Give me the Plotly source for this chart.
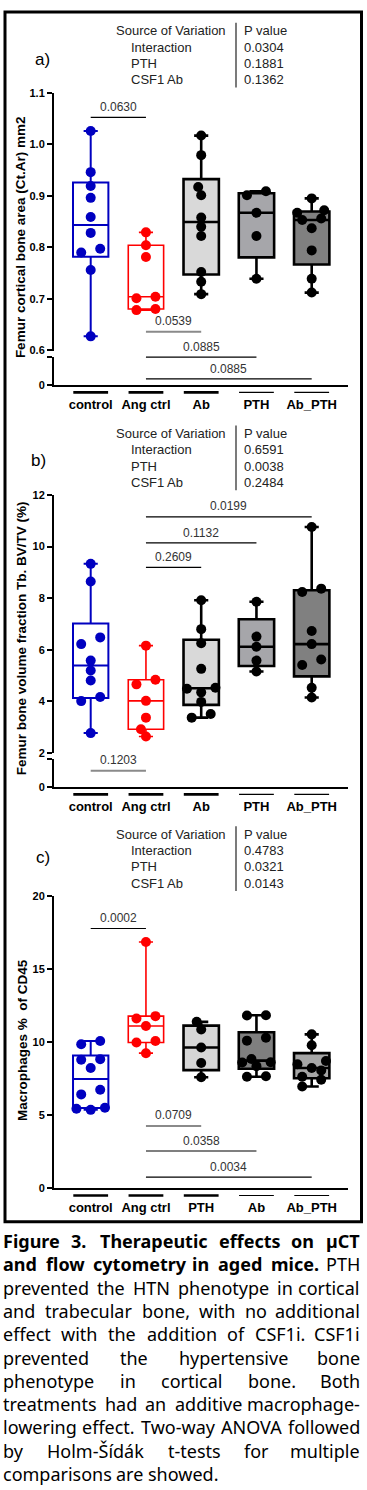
import numpy as np
import plotly.graph_objects as go

W, H = 367, 1490

# ---------------- data ----------------
a_categories = ["control", "Ang ctrl", "Ab", "PTH", "Ab_PTH"]
a_control = [1.026, 0.946, 0.919, 0.896, 0.859, 0.828, 0.797, 0.790, 0.756, 0.627]
a_ang_ctrl = [0.829, 0.804, 0.781, 0.704, 0.701, 0.680, 0.678]
a_ab = [1.017, 0.979, 0.917, 0.901, 0.858, 0.840, 0.822, 0.752, 0.733, 0.709]
a_pth = [0.909, 0.901, 0.867, 0.822, 0.739]
a_ab_pth = [0.895, 0.872, 0.867, 0.856, 0.853, 0.837, 0.794, 0.739, 0.712]
a_anova_source = ["Interaction", "PTH", "CSF1 Ab"]
a_anova_p = ["0.0304", "0.1881", "0.1362"]
a_comparisons = [("control", "Ang ctrl", "0.0630"), ("Ang ctrl", "Ab", "0.0539"),
                 ("Ang ctrl", "PTH", "0.0885"), ("Ang ctrl", "Ab_PTH", "0.0885")]
a_ytitle = "Femur cortical bone area (Ct.Ar) mm2"

b_categories = ["control", "Ang ctrl", "Ab", "PTH", "Ab_PTH"]
b_control = [9.33, 8.65, 6.48, 6.22, 5.58, 5.20, 4.81, 4.17, 4.01, 2.77]
b_ang_ctrl = [6.16, 4.84, 4.66, 4.02, 3.37, 2.92, 2.64]
b_ab = [7.92, 6.80, 6.25, 5.26, 4.53, 4.49, 4.35, 3.98, 3.51, 3.37]
b_pth = [7.86, 6.51, 6.12, 5.58, 5.16]
b_ab_pth = [10.76, 8.37, 8.24, 6.73, 6.22, 5.62, 5.41, 4.53, 4.15]
b_anova_source = ["Interaction", "PTH", "CSF1 Ab"]
b_anova_p = ["0.6591", "0.0038", "0.2484"]
b_comparisons = [("Ang ctrl", "Ab_PTH", "0.0199"), ("Ang ctrl", "PTH", "0.1132"),
                 ("Ang ctrl", "Ab", "0.2609"), ("control", "Ang ctrl", "0.1203")]
b_ytitle = "Femur bone volume fraction Tb. BV/TV (%)"

c_categories = ["control", "Ang ctrl", "PTH", "Ab", "Ab_PTH"]
c_control = [10.08, 9.85, 8.83, 8.79, 8.22, 6.73, 6.41, 5.50, 5.43, 5.35]
c_ang_ctrl = [16.87, 11.78, 11.62, 11.10, 10.08, 9.97, 9.24]
c_pth = [11.39, 10.87, 9.63, 8.56, 7.59]
c_ab = [11.84, 11.82, 10.30, 10.10, 8.84, 8.62, 8.60, 8.35, 7.65, 7.62]
c_ab_pth = [10.53, 9.78, 8.70, 8.48, 8.22, 8.05, 7.62, 7.42, 6.95]
c_anova_source = ["Interaction", "PTH", "CSF1 Ab"]
c_anova_p = ["0.4783", "0.0321", "0.0143"]
c_comparisons = [("control", "Ang ctrl", "0.0002"), ("Ang ctrl", "PTH", "0.0709"),
                 ("Ang ctrl", "Ab", "0.0358"), ("Ang ctrl", "Ab_PTH", "0.0034")]
c_ytitle = "Macrophages %\u00a0 of CD45"

caption_lines = [
    ("Figure 3. Therapeutic effects on µCT", 6),
    ("and flow cytometry in aged mice. PTH", 6),
    ("prevented the HTN phenotype in cortical", 0),
    ("and trabecular bone, with no additional", 0),
    ("effect with the addition of CSF1i. CSF1i", 0),
    ("prevented the hypertensive bone", 0),
    ("phenotype in cortical bone. Both", 0),
    ("treatments had an additive macrophage-", 0),
    ("lowering effect. Two-way ANOVA followed", 0),
    ("by Holm-Šídák t-tests for multiple", 0),
    ("comparisons are showed.", 0),
]

# ---------------- styling / layout ----------------
AXF = "Liberation Sans, Arial, sans-serif"
CAPF = "Noto Sans, Open Sans, sans-serif"
BLUE, RED = "#0000C0", "#FF0000"
X_LEFT, X_RIGHT = 54, 348
CAT0_PX, CAT_STEP = 90.7, 55.25
x_range = [(X_LEFT - CAT0_PX) / CAT_STEP, (X_RIGHT - CAT0_PX) / CAT_STEP]


def pyf(y):
    return 1 - y / H


def pxf(x):
    return x / W


panels = [
    dict(cats=a_categories, groups=[a_control, a_ang_ctrl, a_ab, a_pth, a_ab_pth],
         fills=["white", "white", "#D9D9D9", "#A6A6AA", "#808080"],
         upper=(87.3, 347.3), yr=(0.6, 1.1), ytv=[0.6, 0.7, 0.8, 0.9, 1.0, 1.1], yfmt="{:.1f}",
         lower=(354.0, 382.0), src=a_anova_source, pv=a_anova_p, table_y=25.0, label="a)", label_xy=(42.5, 54),
         comps=a_comparisons, comp_y=[112.3, 328.3, 354.0, 376.0], comp_grey=[False, True, False, False],
         ytitle=a_ytitle, ytitle_xy=(20, 233)),
    dict(cats=b_categories, groups=[b_control, b_ang_ctrl, b_ab, b_pth, b_ab_pth],
         fills=["white", "white", "#D9D9D9", "#A6A6AA", "#808080"],
         upper=(492.7, 753.3), yr=(2, 12), ytv=[2, 4, 6, 8, 10, 12], yfmt="{:.0f}",
         lower=(759.0, 787.3), src=b_anova_source, pv=b_anova_p, table_y=431.0, label="b)", label_xy=(38.5, 458),
         comps=b_comparisons, comp_y=[515.0, 541.3, 566.0, 771.0], comp_grey=[False, False, False, True],
         ytitle=b_ytitle, ytitle_xy=(21.5, 638)),
    dict(cats=c_categories, groups=[c_control, c_ang_ctrl, c_pth, c_ab, c_ab_pth],
         fills=["white", "white", "#D6D6D6", "#7F7F7F", "#A6A6A6"],
         upper=(897.3, 1191.7), yr=(0, 20), ytv=[0, 5, 10, 15, 20], yfmt="{:.0f}",
         lower=None, src=c_anova_source, pv=c_anova_p, table_y=835.0, label="c)", label_xy=(42.5, 858),
         comps=c_comparisons, comp_y=[930.0, 1129.0, 1154.3, 1180.7], comp_grey=[False, True, False, False],
         ytitle=c_ytitle, ytitle_xy=(22.5, 1043)),
]
line_colors = [BLUE, RED, "black", "black", "black"]
line_widths = [2.0, 1.6, 2.6, 2.6, 2.6]
DOT = 10


def swarm_offsets(vals, ppu_y, ppu_x, d=9.5):
    n = len(vals)
    order = sorted(range(n), key=lambda i: vals[i])
    rows = []
    for i in order:
        if rows and (vals[i] - vals[rows[-1][0]]) * ppu_y < 0.75 * d:
            rows[-1].append(i)
        else:
            rows.append([i])
    off = [0.0] * n
    placed = []
    for row in rows:
        m = len(row)
        if m == 1:
            slots = [0.0]
        elif m == 2:
            slots = [-1.0, 1.0]
        elif m % 2 == 1:
            slots, k = [0.0], 1
            while len(slots) < m:
                slots += [-1.5 * k, 1.5 * k]
                k += 1
        else:
            slots, k = [], 0
            while len(slots) < m:
                slots += [-(0.75 + 1.5 * k), 0.75 + 1.5 * k]
                k += 1
        for i, s in zip(row, slots[:m]):
            dx = s * d
            yp = vals[i] * ppu_y

            def free(x):
                return all((x - a) ** 2 + (yp - b) ** 2 >= (0.92 * d) ** 2 for a, b in placed)
            if not free(dx):
                for step in range(1, 80):
                    sgn = -1 if dx <= 0 else 1
                    cands = [dx + sgn * step * 0.5, dx - sgn * step * 0.5]
                    ok = [c for c in cands if free(c)]
                    if ok:
                        dx = ok[0]
                        break
            placed.append((dx, yp))
            off[i] = dx / ppu_x
    return off


fig = go.Figure()
layout = dict(width=W, height=H, margin=dict(l=0, r=0, t=0, b=0), autosize=False,
              paper_bgcolor="white", plot_bgcolor="rgba(0,0,0,0)", showlegend=False)
shapes, annotations = [], []

yidx = 1
for pi, P in enumerate(panels):
    xname = "x" if pi == 0 else f"x{pi + 1}"
    xkey = "xaxis" if pi == 0 else f"xaxis{pi + 1}"
    yu = "y" if yidx == 1 else f"y{yidx}"
    yukey = "yaxis" if yidx == 1 else f"yaxis{yidx}"
    top, bot = P["upper"]
    y0, y1 = P["yr"]
    span = y1 - y0
    pad = span * 0.001
    layout[yukey] = dict(domain=[pyf(bot), pyf(top)], range=[y0 - pad, y1 + pad], anchor=xname,
                         tickvals=P["ytv"], ticktext=[P["yfmt"].format(v) for v in P["ytv"]],
                         ticks="outside", ticklen=5, tickwidth=2, tickcolor="black",
                         showline=True, linewidth=2, linecolor="black", showgrid=False, zeroline=False,
                         tickfont=dict(family=AXF, size=11, color="black", weight="bold"))
    axis_bottom_px = bot
    x_anchor = yu
    if P["lower"] is not None:
        yidx += 1
        yl = f"y{yidx}"
        ylkey = f"yaxis{yidx}"
        ltop, lbot = P["lower"]
        layout[ylkey] = dict(domain=[pyf(lbot), pyf(ltop)], range=[-0.001, 1.001], anchor=xname,
                             tickvals=[0, 1], ticktext=["0", ""],
                             ticks="outside", ticklen=5, tickwidth=2, tickcolor="black",
                             showline=True, linewidth=2, linecolor="black", showgrid=False, zeroline=False,
                             tickfont=dict(family=AXF, size=11, color="black", weight="bold"))
        fig.add_trace(go.Scatter(x=[0], y=[-5], xaxis=xname, yaxis=yl, mode="markers",
                                 marker=dict(opacity=0), hoverinfo="skip", showlegend=False))
        axis_bottom_px = lbot
        x_anchor = yl
    yidx += 1
    layout[xkey] = dict(domain=[pxf(X_LEFT), pxf(X_RIGHT)], range=x_range, anchor=x_anchor,
                        tickvals=list(range(len(P["cats"]))), ticktext=P["cats"],
                        ticks="", ticklabelstandoff=6,
                        showline=True, linewidth=2, linecolor="black", showgrid=False, zeroline=False,
                        tickfont=dict(family=AXF, size=13, color="black", weight="bold"))

    ppu_y = (bot - top) / span
    for gi, vals in enumerate(P["groups"]):
        arr = np.array(vals, dtype=float)
        q1, med, q3 = np.percentile(arr, [25, 50, 75], method="weibull")
        fig.add_trace(go.Box(x=[gi], q1=[q1], median=[med], q3=[q3],
                             lowerfence=[arr.min()], upperfence=[arr.max()],
                             width=0.64, whiskerwidth=0.4, boxpoints=False,
                             fillcolor=P["fills"][gi],
                             line=dict(color=line_colors[gi], width=line_widths[gi]),
                             xaxis=xname, yaxis=yu, hoverinfo="skip", showlegend=False))
        offs = swarm_offsets(vals, ppu_y, CAT_STEP)
        fig.add_trace(go.Scatter(x=[gi + o for o in offs], y=vals, mode="markers",
                                 marker=dict(size=DOT, color=line_colors[gi], line=dict(width=0)),
                                 xaxis=xname, yaxis=yu, hoverinfo="skip", showlegend=False,
                                 cliponaxis=False))

    # category over-lines
    for gi in range(len(P["cats"])):
        shapes.append(dict(type="line", xref=xname, yref="paper", x0=gi - 0.315, x1=gi + 0.315,
                           y0=pyf(axis_bottom_px + 7.5), y1=pyf(axis_bottom_px + 7.5),
                           line=dict(color="black", width=2.6 if gi < 3 else 1.1)))

    # comparison bars
    cat_index = {c: i for i, c in enumerate(P["cats"])}
    for (ca, cb, lab), yb, grey in zip(P["comps"], P["comp_y"], P["comp_grey"]):
        ia, ib = cat_index[ca], cat_index[cb]
        shapes.append(dict(type="line", xref=xname, yref="paper", x0=ia, x1=ib,
                           y0=pyf(yb), y1=pyf(yb),
                           line=dict(color="#8A8A8A" if grey else "black", width=2 if grey else 1.2)))
        annotations.append(dict(xref=xname, yref="paper", x=(ia + ib) / 2, y=pyf(yb - 10.5),
                                text=lab, showarrow=False, xanchor="center", yanchor="middle",
                                font=dict(family=AXF, size=12, color="#333333")))

    # ANOVA table
    ty = P["table_y"]
    step = 16.4
    annotations.append(dict(xref="paper", yref="paper", x=pxf(114), y=pyf(ty), text="Source of Variation",
                            showarrow=False, xanchor="left", yanchor="middle",
                            font=dict(family=AXF, size=13, color="#222222")))
    annotations.append(dict(xref="paper", yref="paper", x=pxf(241.5), y=pyf(ty), text="P value",
                            showarrow=False, xanchor="left", yanchor="middle",
                            font=dict(family=AXF, size=13, color="#222222")))
    for ri, (s, p) in enumerate(zip(P["src"], P["pv"])):
        yy = ty + step * (ri + 1)
        annotations.append(dict(xref="paper", yref="paper", x=pxf(129), y=pyf(yy), text=s,
                                showarrow=False, xanchor="left", yanchor="middle",
                                font=dict(family=AXF, size=13, color="#222222")))
        annotations.append(dict(xref="paper", yref="paper", x=pxf(241.5), y=pyf(yy), text=p,
                                showarrow=False, xanchor="left", yanchor="middle",
                                font=dict(family=AXF, size=13, color="#222222")))
    shapes.append(dict(type="line", xref="paper", yref="paper", x0=pxf(236), x1=pxf(236),
                       y0=pyf(ty - 8), y1=pyf(ty + step * 3 + 8), line=dict(color="#222222", width=1.2)))

    # panel label
    lx, ly = P["label_xy"]
    annotations.append(dict(xref="paper", yref="paper", x=pxf(lx), y=pyf(ly), text=P["label"],
                            showarrow=False, xanchor="center", yanchor="middle",
                            font=dict(family=AXF, size=17, color="black")))
    # y title
    tx, tyy = P["ytitle_xy"]
    annotations.append(dict(xref="paper", yref="paper", x=pxf(tx), y=pyf(tyy), text=P["ytitle"],
                            showarrow=False, textangle=-90, xanchor="center", yanchor="middle",
                            font=dict(family=AXF, size=13.5, color="black", weight="bold")))

# figure border
shapes.append(dict(type="rect", xref="paper", yref="paper", x0=pxf(5), x1=pxf(361.5),
                   y0=pyf(6), y1=pyf(1225.5), line=dict(color="black", width=3)))

# ---------------- caption (justified) ----------------
WID = {' ': 260, '.': 266, ',': 250, '-': 322, '0': 572, '1': 572, '2': 572, '3': 572, '4': 572,
       '5': 572, '6': 572, '7': 572, '8': 572, '9': 572,
       'A': 633, 'B': 648, 'C': 631, 'D': 722, 'E': 556, 'F': 514, 'G': 728, 'H': 738, 'I': 286,
       'M': 906, 'N': 760, 'O': 781, 'P': 590, 'S': 550, 'T': 552, 'V': 596, 'W': 920,
       'a': 556, 'b': 613, 'c': 476, 'd': 613, 'e': 561, 'f': 339, 'g': 548, 'h': 614, 'i': 253,
       'j': 253, 'k': 525, 'l': 253, 'm': 930, 'n': 614, 'o': 604, 'p': 613, 'q': 613, 'r': 408,
       's': 477, 't': 353, 'u': 614, 'v': 501, 'w': 778, 'x': 524, 'y': 502, 'z': 477,
       'µ': 620, 'Š': 550, 'í': 253, 'á': 556}
CAP_SIZE = 18
CAP_L, CAP_R = 2.0, 360.5
CAP_Y0, CAP_DY = 1245.0, 23.5


def word_w(w, bold):
    return sum(WID.get(ch, 560) for ch in w) / 1000 * CAP_SIZE * (1.07 if bold else 1.0)


for li, (text, nbold) in enumerate(caption_lines):
    words = text.split(" ")
    bolds = [k < nbold for k in range(len(words))]
    widths = [word_w(w, b) for w, b in zip(words, bolds)]
    last = li == len(caption_lines) - 1
    if last or len(words) == 1:
        gap = WID[' '] / 1000 * CAP_SIZE
    else:
        gap = (CAP_R - CAP_L - sum(widths)) / (len(words) - 1)
    yy = CAP_Y0 + CAP_DY * li
    x = CAP_L
    for k, (w, b, ww) in enumerate(zip(words, bolds, widths)):
        if (not last) and k == len(words) - 1 and len(words) > 1:
            annotations.append(dict(xref="paper", yref="paper", x=pxf(CAP_R), y=pyf(yy),
                                    text=f"<b>{w}</b>" if b else w, showarrow=False,
                                    xanchor="right", yanchor="middle", borderpad=0,
                                    font=dict(family=CAPF, size=CAP_SIZE, color="black")))
        else:
            annotations.append(dict(xref="paper", yref="paper", x=pxf(x), y=pyf(yy),
                                    text=f"<b>{w}</b>" if b else w, showarrow=False,
                                    xanchor="left", yanchor="middle", borderpad=0,
                                    font=dict(family=CAPF, size=CAP_SIZE, color="black")))
        x += ww + gap

layout["shapes"] = shapes
layout["annotations"] = annotations
fig.update_layout(**layout)
fig.write_html("out.html", config={"displayModeBar": False, "staticPlot": True},
               post_script="document.body.style.margin='0px';document.body.style.overflow='hidden';")
